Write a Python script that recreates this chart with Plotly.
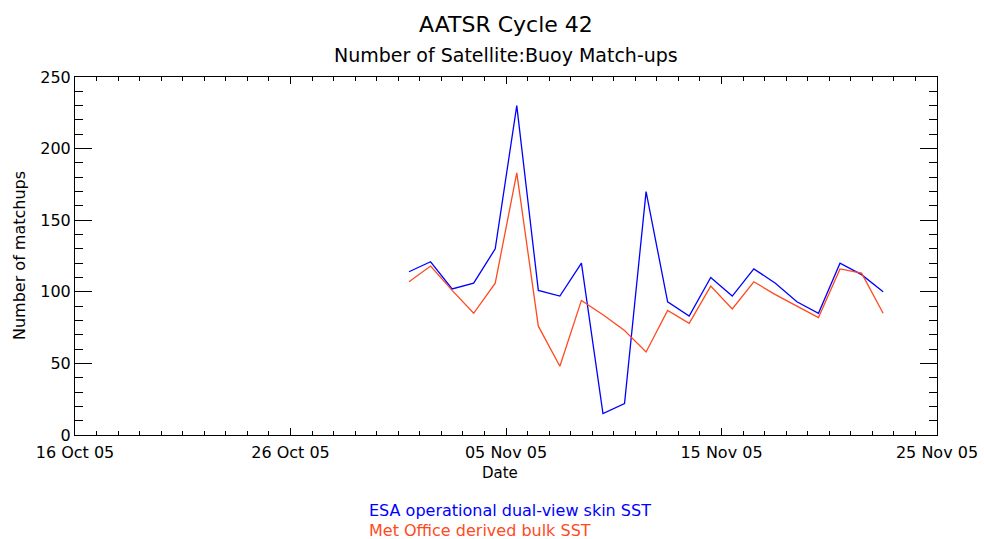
import plotly.graph_objects as go

dates = ["2005-10-31 12:00", "2005-11-01 12:00", "2005-11-02 12:00", "2005-11-03 12:00",
         "2005-11-04 12:00", "2005-11-05 12:00", "2005-11-06 12:00", "2005-11-07 12:00",
         "2005-11-08 12:00", "2005-11-09 12:00", "2005-11-10 12:00", "2005-11-11 12:00",
         "2005-11-12 12:00", "2005-11-13 12:00", "2005-11-14 12:00", "2005-11-15 12:00",
         "2005-11-16 12:00", "2005-11-17 12:00", "2005-11-18 12:00", "2005-11-19 12:00",
         "2005-11-20 12:00", "2005-11-21 12:00", "2005-11-22 12:00"]
esa_skin = [114, 121, 102, 106, 130, 230, 101, 97, 120, 15, 22, 170,
            93, 83, 110, 97, 116, 106, 93, 85, 120, 112, 100]
met_bulk = [107, 118, 101, 85, 106, 183, 76, 48, 94, 84, 73, 58,
            87, 78, 104, 88, 107, 98, 90, 82, 116, 113, 85]

BLUE = "#0000ff"
RED = "#ff4a1e"
FONT = "DejaVu Sans"

fig = go.Figure()
fig.add_trace(go.Scatter(x=dates, y=esa_skin, mode="lines",
                         line=dict(color=BLUE, width=1.3), name="ESA operational dual-view skin SST"))
fig.add_trace(go.Scatter(x=dates, y=met_bulk, mode="lines",
                         line=dict(color=RED, width=1.3), name="Met Office derived bulk SST"))

fig.update_layout(
    width=984, height=539,
    margin=dict(l=75, r=47, t=77, b=104, autoexpand=False),
    paper_bgcolor="white", plot_bgcolor="white",
    showlegend=False,
    font=dict(family=FONT, color="black", size=15),
    xaxis=dict(
        type="date", range=["2005-10-16", "2005-11-25"],
        tick0="2005-10-16", dtick=864000000, tickformat="%d %b %y",
        ticks="inside", ticklen=7, tickwidth=1, tickcolor="black",
        minor=dict(ticks="inside", ticklen=4, dtick=86400000, tickcolor="black", tickwidth=1),
        showline=True, linecolor="black", linewidth=1, mirror="ticks",
        showgrid=False, zeroline=False, automargin=False,
        tickfont=dict(size=16), ticklabelstandoff=3,
    ),
    yaxis=dict(
        range=[0, 250], dtick=50,
        ticks="inside", ticklen=17, tickwidth=1, tickcolor="black",
        minor=dict(ticks="inside", ticklen=8, dtick=10, tickcolor="black", tickwidth=1),
        showline=True, linecolor="black", linewidth=1, mirror="ticks",
        showgrid=False, zeroline=False, automargin=False,
        tickfont=dict(size=16),
    ),
    annotations=[
        dict(text="AATSR Cycle 42", x=0.5, y=(435 - 24) / 358, xref="paper", yref="paper",
             showarrow=False, xanchor="center", yanchor="middle", font=dict(size=22)),
        dict(text="Number of Satellite:Buoy Match-ups", x=0.5, y=(435 - 55) / 358,
             xref="paper", yref="paper", showarrow=False, xanchor="center", yanchor="middle",
             font=dict(size=19)),
        dict(text="Date", x=(500 - 75) / 862, y=(435 - 473) / 358, xref="paper", yref="paper",
             showarrow=False, xanchor="center", yanchor="middle", font=dict(size=15)),
        dict(text="Number of matchups", x=(19 - 75) / 862, y=0.5, xref="paper", yref="paper",
             showarrow=False, xanchor="center", yanchor="middle", textangle=-90, font=dict(size=16)),
        dict(text="ESA operational dual-view skin SST", x=(367 - 75) / 862, y=(435 - 510) / 358,
             xref="paper", yref="paper", showarrow=False, xanchor="left", yanchor="middle",
             font=dict(size=16, color=BLUE)),
        dict(text="Met Office derived bulk SST", x=(367 - 75) / 862, y=(435 - 530) / 358,
             xref="paper", yref="paper", showarrow=False, xanchor="left", yanchor="middle",
             font=dict(size=16, color=RED)),
    ],
)

fig.write_html("out.html", config={"displayModeBar": False},
               post_script="document.body.style.margin='0';document.body.style.overflow='hidden';")
